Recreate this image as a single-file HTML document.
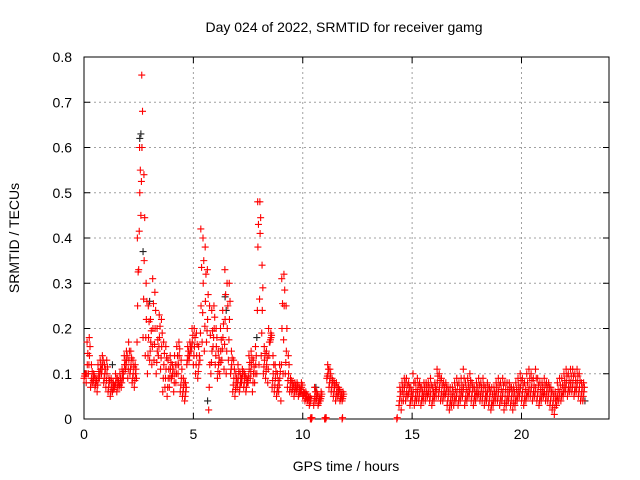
<!DOCTYPE html>
<html><head><meta charset="utf-8"><style>
body{margin:0;background:#fff}
svg{display:block;font-family:"Liberation Sans",sans-serif}
</style></head><body>
<svg id="c" width="640" height="480">
<g id="grid"></g>
<g id="axes"></g>
<g id="blk"></g>
<g id="red"></g>
<text x="344" y="32" font-size="14" text-anchor="middle">Day 024 of 2022, SRMTID for receiver gamg</text>
<text x="346" y="471" font-size="14" text-anchor="middle">GPS time / hours</text>
<text transform="translate(19,238) rotate(-90)" font-size="14" text-anchor="middle">SRMTID / TECUs</text>
</svg>
<script>
const xTicks=[0,5,10,15,20];
const yTicks=[0,0.1,0.2,0.3,0.4,0.5,0.6,0.7,0.8];
const yTickLabels=["0","0.1","0.2","0.3","0.4","0.5","0.6","0.7","0.8"];
const timesA=[0,0.1,0.2,0.3,0.4,0.5,0.6,0.7,0.8,0.9,1,1.1,1.2,1.3,1.4,1.5,1.6,1.7,1.8,1.9,2,2.1,2.2,2.3,2.4,2.5,2.6,2.7,2.8,2.9,3,3.1,3.2,3.3,3.4,3.5,3.6,3.7,3.8,3.9,4,4.1,4.2,4.3,4.4,4.5,4.6,4.7,4.8,4.9,5,5.1,5.2,5.3,5.4,5.5,5.6,5.7,5.8,5.9,6,6.1,6.2,6.3,6.4,6.5,6.6,6.7,6.8,6.9,7,7.1,7.2,7.3,7.4,7.5,7.6,7.7,7.8,7.9,8,8.1,8.2,8.3,8.4,8.5,8.6,8.7,8.8,8.9,9,9.1,9.2,9.3,9.4,9.5,9.6,9.7,9.8,9.9,10,10.1,10.2,10.3,10.5,10.6,10.7,10.8,11.1,11.2,11.3,11.4,11.5,11.6,11.7,11.8];
const lowA=[.09,.08,.10,.07,.08,.07,.06,.09,.10,.08,.07,.06,.05,.06,.07,.06,.07,.07,.09,.11,.09,.10,.08,.07,.09,.33,.45,.18,.14,.10,.13,.12,.13,.10,.14,.11,.06,.07,.05,.07,.09,.06,.08,.10,.06,.05,.04,.12,.13,.15,.12,.10,.09,.13,.17,.15,.17,.02,.10,.16,.12,.09,.10,.13,.11,.10,.13,.10,.06,.05,.07,.06,.08,.07,.06,.08,.09,.06,.08,.10,.12,.14,.10,.09,.08,.17,.07,.06,.05,.06,.04,.10,.10,.07,.06,.06,.05,.06,.05,.06,.05,.04,.04,.03,.03,.04,.03,.04,.09,.07,.06,.05,.04,.05,.04,.04];
const midA=[.10,.12,.14,.09,.09,.08,.09,.11,.12,.10,.10,.08,.07,.07,.08,.08,.08,.09,.12,.13,.13,.12,.10,.10,.25,.50,.60,.35,.22,.18,.17,.20,.20,.15,.18,.16,.12,.11,.09,.11,.10,.10,.12,.14,.09,.07,.06,.14,.15,.17,.16,.14,.12,.25,.30,.26,.22,.12,.15,.20,.16,.12,.15,.18,.22,.20,.22,.12,.09,.08,.09,.08,.10,.09,.08,.11,.12,.10,.12,.38,.41,.24,.13,.12,.14,.18,.10,.09,.07,.09,.20,.25,.15,.10,.08,.07,.07,.07,.06,.07,.055,.05,.045,.04,.05,.05,.04,.05,.10,.09,.08,.07,.06,.06,.05,.05];
const highA=[.10,.17,.18,.12,.10,.09,.12,.13,.14,.12,.13,.09,.09,.08,.10,.09,.10,.11,.14,.15,.17,.15,.13,.12,.40,.60,.76,.54,.30,.25,.22,.31,.28,.20,.23,.22,.17,.16,.13,.14,.12,.14,.16,.17,.13,.09,.08,.16,.17,.20,.20,.19,.16,.42,.40,.38,.33,.25,.24,.25,.20,.15,.20,.24,.33,.30,.30,.15,.13,.10,.12,.10,.11,.10,.09,.14,.15,.13,.16,.48,.48,.34,.16,.15,.20,.19,.14,.12,.10,.12,.31,.32,.25,.14,.09,.08,.08,.08,.07,.08,.06,.06,.05,.05,.07,.06,.05,.06,.12,.11,.09,.08,.08,.07,.06,.06];
const timesB=[14.4,14.5,14.6,14.7,14.8,14.9,15,15.1,15.2,15.3,15.4,15.5,15.6,15.7,15.8,15.9,16,16.1,16.2,16.3,16.4,16.5,16.6,16.7,16.8,16.9,17,17.1,17.2,17.3,17.4,17.5,17.6,17.7,17.8,17.9,18,18.1,18.2,18.3,18.4,18.5,18.6,18.7,18.8,18.9,19,19.1,19.2,19.3,19.4,19.5,19.6,19.7,19.8,19.9,20,20.1,20.2,20.3,20.4,20.5,20.6,20.7,20.8,20.9,21,21.1,21.2,21.3,21.4,21.5,21.6,21.7,21.8,21.9,22,22.1,22.2,22.3,22.4,22.5,22.6,22.7,22.8];
const lowB=[.03,.02,.04,.04,.05,.03,.04,.03,.04,.04,.03,.04,.04,.05,.04,.03,.04,.05,.05,.04,.04,.05,.03,.02,.03,.03,.04,.03,.04,.05,.03,.04,.05,.04,.03,.04,.05,.04,.04,.03,.04,.03,.02,.03,.04,.04,.03,.04,.02,.03,.04,.03,.02,.03,.04,.05,.04,.03,.04,.05,.05,.04,.05,.04,.03,.04,.05,.04,.04,.03,.02,.01,.03,.04,.04,.05,.06,.05,.06,.06,.05,.06,.05,.04,.04];
const midB=[.05,.06,.07,.06,.06,.05,.06,.05,.06,.06,.05,.06,.06,.06,.06,.05,.06,.08,.07,.06,.06,.06,.05,.04,.05,.05,.06,.05,.06,.07,.05,.06,.07,.06,.05,.06,.06,.06,.06,.05,.06,.05,.04,.05,.06,.06,.05,.06,.05,.05,.06,.05,.05,.05,.06,.07,.06,.05,.06,.07,.07,.06,.07,.06,.05,.06,.06,.06,.06,.05,.04,.04,.05,.06,.06,.07,.08,.07,.08,.08,.07,.08,.07,.06,.06];
const highB=[.07,.08,.09,.09,.08,.07,.10,.08,.09,.08,.07,.08,.08,.08,.09,.07,.08,.11,.10,.09,.08,.08,.07,.07,.07,.08,.09,.08,.09,.11,.08,.09,.10,.08,.07,.08,.09,.08,.09,.07,.08,.07,.07,.07,.08,.09,.08,.09,.08,.08,.08,.07,.07,.08,.09,.10,.09,.08,.10,.11,.10,.09,.11,.09,.08,.08,.09,.08,.08,.07,.06,.06,.08,.09,.09,.10,.11,.10,.11,.11,.10,.11,.10,.08,.08];
const zeroTimes=[10.35,10.4,11.0,11.05,11.8,14.3];
const blackTimes=[2.55,2.6,2.65,2.7,5.65,6.45,6.5,7.9,3.0,1.3,10.6,22.9];
const blackVals=[0.62,0.63,0.60,0.37,0.04,0.27,0.24,0.18,0.26,0.12,0.07,0.04];

const L=84,R=609,T=57,B=419,XMAX=24,YMAX=0.8;
const xs=v=>L+v/XMAX*(R-L), ys=v=>B-v/YMAX*(B-T);
const NS="http://www.w3.org/2000/svg";
function mk(tag,attrs,parent){const e=document.createElementNS(NS,tag);for(const k in attrs)e.setAttribute(k,attrs[k]);parent.appendChild(e);return e;}
const grid=document.getElementById('grid'),axes=document.getElementById('axes');
xTicks.forEach(t=>{const x=xs(t);
 if(t>0){const g=mk('line',{x1:x,x2:x,y1:T,y2:B,stroke:'#a0a0a0','stroke-dasharray':'2,3'},grid);
 
 }
 mk('line',{x1:x,x2:x,y1:B,y2:B-6,stroke:'#000'},axes);mk('line',{x1:x,x2:x,y1:T,y2:T+6,stroke:'#000'},axes);
 const tx=mk('text',{x:x,y:B+20,'font-size':14,'text-anchor':'middle'},axes);tx.textContent=t;
 
 });
yTicks.forEach((t,i)=>{const y=ys(t);
 if(t>0&&t<YMAX){const g=mk('line',{x1:L,x2:R,y1:y,y2:y,stroke:'#a0a0a0','stroke-dasharray':'2,3'},grid);
 
 }
 mk('line',{x1:L,x2:L+6,y1:y,y2:y,stroke:'#000'},axes);mk('line',{x1:R,x2:R-6,y1:y,y2:y,stroke:'#000'},axes);
 const tx=mk('text',{x:L-12,y:y+5,'font-size':14,'text-anchor':'end'},axes);tx.textContent=yTickLabels[i];
 
 });
const fr=mk('rect',{x:L,y:T,width:R-L,height:B-T,fill:'none',stroke:'#000'},axes);


function plus(g,t,v,col){const x=xs(t),y=ys(v);
 const p=mk('path',{d:`M${x-3.5},${y}h7M${x},${y-3.5}v7`,stroke:col,'stroke-width':1.1,fill:'none'},g);
 
 }
const blk=document.getElementById('blk'),red=document.getElementById('red');
blackTimes.forEach((t,i)=>plus(blk,t,blackVals[i],'#222'));
function band(times,lo,mi,hi){times.forEach((t,i)=>{
 plus(red,t,lo[i],'#f00');plus(red,t+0.05,mi[i],'#f00');plus(red,t+0.025,(lo[i]+mi[i])/2,'#f00');
 plus(red,t+0.075,(mi[i]+hi[i])/2,'#f00');plus(red,t+0.04,hi[i],'#f00');});}
band(timesA,lowA,midA,highA);
band(timesB,lowB,midB,highB);
zeroTimes.forEach(t=>{plus(red,t,0,'#f00');plus(red,t+0.02,0.003,'#f00');});
</script>
</body></html>
